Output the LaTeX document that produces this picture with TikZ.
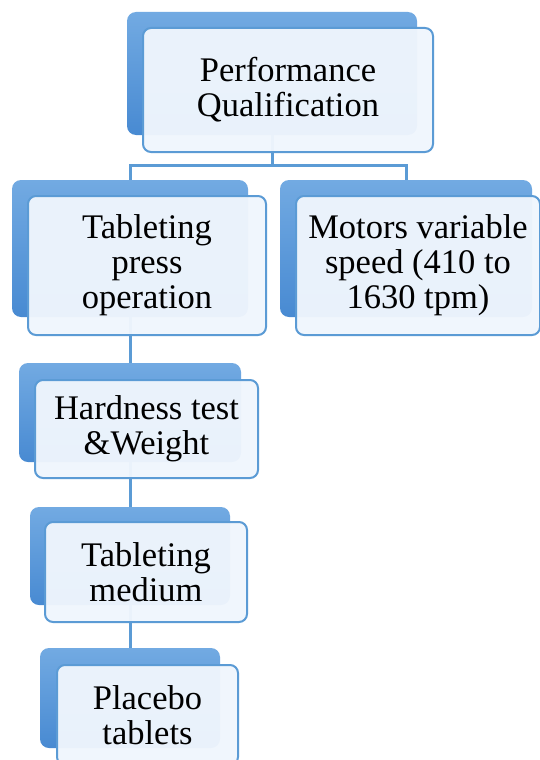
\documentclass[tikz,border=0pt]{standalone}
\usepackage{fontspec}
\setmainfont{Liberation Serif}
\definecolor{backtop}{RGB}{114,170,226}
\definecolor{backbot}{RGB}{72,138,210}
\definecolor{frontfill}{RGB}{240,246,253}
\definecolor{edgeblue}{RGB}{91,155,213}
\pgfdeclarelayer{bg}
\pgfsetlayers{bg,main}
\tikzset{
  backbox/.style={rectangle, rounded corners=9pt, top color=backtop, bottom color=backbot, draw=none, inner sep=0pt},
  frontbox/.style={rectangle, rounded corners=8pt, fill=frontfill, fill opacity=0.96, text opacity=1, draw=edgeblue, line width=2pt, inner sep=0pt, align=center, font=\fontsize{34.5}{35}\selectfont, text=black},
  conn/.style={draw=edgeblue, line width=3pt}
}
\begin{document}
\begin{tikzpicture}[x=1pt,y=-1pt]
\useasboundingbox (0,0) rectangle (540,760);
\clip (0,0) rectangle (540,760);
% Performance Qualification
\node[backbox, minimum width=290pt, minimum height=123pt] (pqb) at (272,73.5) {};
\node[frontbox, minimum width=290pt, minimum height=124pt] (pq) at (288,90) {Performance\\Qualification};
% Tableting press operation
\node[backbox, minimum width=236pt, minimum height=137pt] (tpb) at (130,248.5) {};
\node[frontbox, minimum width=238pt, minimum height=139pt] (tp) at (147,265.5) {Tableting\\press\\operation};
% Motors
\node[backbox, minimum width=252pt, minimum height=137pt] (mvb) at (406,248.5) {};
\node[frontbox, minimum width=244pt, minimum height=139pt] (mv) at (418,265.5) {Motors variable\\speed (410 to\\1630 tpm)};
% Hardness
\node[backbox, minimum width=222pt, minimum height=99pt] (hwb) at (130,412.5) {};
\node[frontbox, minimum width=223pt, minimum height=98pt] (hw) at (146.5,429) {Hardness test\\\&Weight};
% Tableting medium
\node[backbox, minimum width=200pt, minimum height=98pt] (tmb) at (130,556) {};
\node[frontbox, minimum width=202pt, minimum height=100pt] (tm) at (146,572) {Tableting\\medium};
% Placebo
\node[backbox, minimum width=180pt, minimum height=100pt] (plb) at (130,698) {};
\node[frontbox, minimum width=181pt, minimum height=100pt] (pl) at (147.5,715) {Placebo\\tablets};
\coordinate (j) at (272,165);
\begin{pgfonlayer}{bg}
\fill[white] (0,0) rectangle (540,760);
\draw[conn] (pqb.center) -- (j);
\draw[conn] (tpb.center) |- (j) -| (mvb.center);
\draw[conn] (tpb.center) -- (hwb.center);
\draw[conn] (hwb.center) -- (tmb.center);
\draw[conn] (tmb.center) -- (plb.center);
\end{pgfonlayer}
\end{tikzpicture}
\end{document}
